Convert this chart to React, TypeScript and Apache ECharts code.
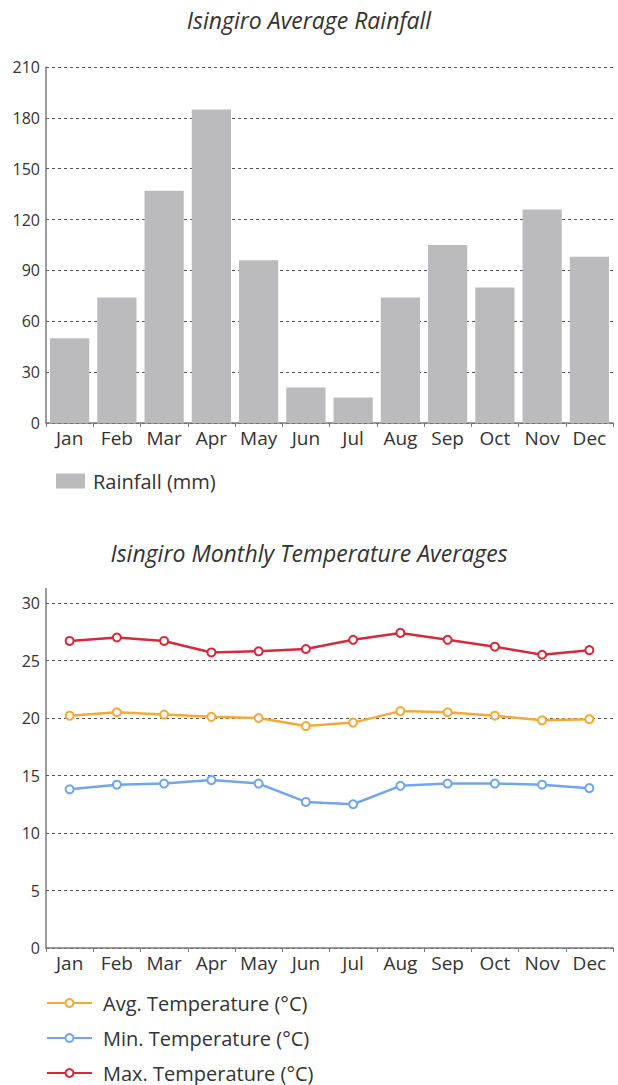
import React, { useEffect, useRef } from "react";
import * as echarts from "echarts";

const months = ["Jan", "Feb", "Mar", "Apr", "May", "Jun", "Jul", "Aug", "Sep", "Oct", "Nov", "Dec"];
const rainfall = [50, 74, 137, 185, 96, 21, 15, 74, 105, 80, 126, 98];
const avgTemp = [20.2, 20.5, 20.3, 20.1, 20.0, 19.3, 19.6, 20.6, 20.5, 20.2, 19.8, 19.9];
const minTemp = [13.8, 14.2, 14.3, 14.6, 14.3, 12.7, 12.5, 14.1, 14.3, 14.3, 14.2, 13.9];
const maxTemp = [26.7, 27.0, 26.7, 25.7, 25.8, 26.0, 26.8, 27.4, 26.8, 26.2, 25.5, 25.9];

const FONT = "'Open Sans', 'Noto Sans', sans-serif";
const TEXT = "#333";
const AXIS = "#7a7a7a";
const GRIDLINE = "#555";

export default function App() {
  const ref = useRef<HTMLDivElement>(null);
  useEffect(() => {
    if (!ref.current) return;
    const chart = echarts.init(ref.current, null, { renderer: "svg" });
    const xAxisCommon = {
      type: "category" as const,
      data: months,
      axisLine: { lineStyle: { color: AXIS, width: 1.5 } },
      axisTick: { show: true, length: 4, lineStyle: { color: AXIS } },
      axisLabel: { color: TEXT, fontSize: 19, fontFamily: FONT, margin: 5, interval: 0, hideOverlap: false },
    };
    const yAxisCommon = {
      type: "value" as const,
      min: 0,
      axisLine: { show: true, lineStyle: { color: AXIS, width: 1.5 } },
      axisTick: { show: false },
      axisLabel: { color: TEXT, fontSize: 16, fontFamily: FONT, margin: 6 },
      splitLine: { show: true, lineStyle: { color: GRIDLINE, type: [3, 3], width: 1 } },
    };
    chart.setOption({
      animation: false,
      backgroundColor: "#fff",
      textStyle: { fontFamily: FONT },
      title: [
        {
          text: "Isingiro Average Rainfall",
          left: "center",
          top: 3,
          textStyle: { fontSize: 23, fontStyle: "italic", fontWeight: "normal", color: TEXT, fontFamily: FONT },
        },
        {
          text: "Isingiro Monthly Temperature Averages",
          left: "center",
          top: 536,
          textStyle: { fontSize: 23, fontStyle: "italic", fontWeight: "normal", color: TEXT, fontFamily: FONT },
        },
      ],
      grid: [
        { left: 46, top: 67, width: 567, height: 356 },
        { left: 46, top: 603, width: 567, height: 345 },
      ],
      xAxis: [
        { ...xAxisCommon, gridIndex: 0 },
        { ...xAxisCommon, gridIndex: 1 },
      ],
      yAxis: [
        { ...yAxisCommon, gridIndex: 0, max: 210, interval: 30 },
        { ...yAxisCommon, gridIndex: 1, max: 30, interval: 5 },
      ],
      legend: [
        {
          data: ["Rainfall (mm)"],
          left: 51,
          top: 466,
          itemWidth: 29,
          itemHeight: 15,
          icon: "rect",
          textStyle: { color: TEXT, fontSize: 20, fontFamily: FONT, padding: [0, 0, 0, 3] },
        },
        {
          data: ["Avg. Temperature (°C)", "Min. Temperature (°C)", "Max. Temperature (°C)"],
          orient: "vertical",
          left: 46,
          top: 993,
          height: 100,
          padding: 0,
          itemWidth: 45,
          itemHeight: 10,
          itemGap: 15,
          textStyle: { color: TEXT, fontSize: 20, fontFamily: FONT, padding: [0, 0, 0, 6] },
        },
      ],
      graphic: [
        {
          type: "line",
          shape: { x1: 46, y1: 588, x2: 46, y2: 603 },
          style: { stroke: AXIS, lineWidth: 1.5 },
        },
      ],
      series: [
        {
          name: "Rainfall (mm)",
          type: "bar",
          xAxisIndex: 0,
          yAxisIndex: 0,
          data: rainfall,
          barCategoryGap: "17%",
          itemStyle: { color: "#bbbbbd" },
        },
        {
          name: "Avg. Temperature (°C)",
          type: "line",
          xAxisIndex: 1,
          yAxisIndex: 1,
          data: avgTemp,
          symbol: "emptyCircle",
          symbolSize: 8,
          lineStyle: { color: "#f5a93b", width: 2.5 },
          itemStyle: { color: "#f5a93b", borderWidth: 2 },
        },
        {
          name: "Min. Temperature (°C)",
          type: "line",
          xAxisIndex: 1,
          yAxisIndex: 1,
          data: minTemp,
          symbol: "emptyCircle",
          symbolSize: 8,
          lineStyle: { color: "#72a5e9", width: 2.5 },
          itemStyle: { color: "#72a5e9", borderWidth: 2 },
        },
        {
          name: "Max. Temperature (°C)",
          type: "line",
          xAxisIndex: 1,
          yAxisIndex: 1,
          data: maxTemp,
          symbol: "emptyCircle",
          symbolSize: 8,
          lineStyle: { color: "#d42a3c", width: 2.5 },
          itemStyle: { color: "#d42a3c", borderWidth: 2 },
        },
      ],
    });
    return () => chart.dispose();
  }, []);
  return (
    <div
      ref={ref}
      style={{ position: "fixed", left: 0, top: 0, width: 618, height: 1085, background: "#fff" }}
    />
  );
}
